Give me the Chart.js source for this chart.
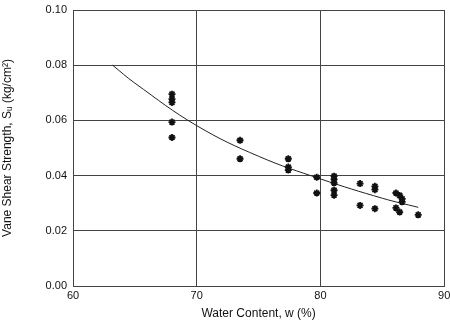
<!DOCTYPE html>
<html>
<head>
<meta charset="utf-8">
<script src="https://cdn.jsdelivr.net/npm/chart.js@4"></script>
<style>
  html, body { margin: 0; padding: 0; background: #fff; }
  #wrap { width: 450px; height: 321px; }
</style>
</head>
<body>
<div id="wrap"><canvas id="c" width="450" height="321"></canvas></div>
<script>
// Datos
const waterContent = [68, 68, 68, 68, 68,
  73.5, 73.5,
  77.4, 77.4, 77.4,
  79.7, 79.7,
  81.1, 81.1, 81.1, 81.1, 81.1,
  83.2, 83.2,
  84.4, 84.4, 84.4,
  86.1, 86.1, 86.4, 86.6, 86.6, 86.4,
  87.9];
const shearStrength = [0.0695, 0.0677, 0.0665, 0.0594, 0.0538,
  0.0528, 0.0461,
  0.0461, 0.0431, 0.0420,
  0.0394, 0.0337,
  0.0398, 0.0386, 0.0374, 0.0347, 0.0329,
  0.0371, 0.0292,
  0.0361, 0.0349, 0.0280,
  0.0337, 0.0283, 0.0328, 0.0316, 0.0305, 0.0268,
  0.0258];

// Curva de ajuste (puntos leídos)
const fitW = [63.2, 65, 70, 75, 80, 85, 87.9];
const fitSu = [0.080, 0.0735, 0.0581, 0.0470, 0.0388, 0.0318, 0.0285];

const xTicks = [60, 70, 80, 90];
const yTicks = [0, 0.02, 0.04, 0.06, 0.08, 0.10];

const font = { family: '"Liberation Sans", Arial, sans-serif', size: 11 };

new Chart(document.getElementById('c'), {
  type: 'scatter',
  data: {
    datasets: [
      {
        label: 'Datos',
        data: waterContent.map((w, i) => ({ x: w, y: shearStrength[i] })),
        pointStyle: 'star',
        pointRadius: 3.5,
        borderWidth: 1.8,
        borderColor: '#111',
        backgroundColor: '#111'
      },
      {
        label: 'Ajuste',
        type: 'line',
        data: fitW.map((w, i) => ({ x: w, y: fitSu[i] })),
        borderColor: '#222',
        borderWidth: 1,
        pointRadius: 0,
        tension: 0.4,
        fill: false
      }
    ]
  },
  options: {
    responsive: false,
    animation: false,
    layout: { padding: { top: 0, right: 0, left: 0, bottom: 0 } },
    plugins: { legend: { display: false }, tooltip: { enabled: false } },
    scales: {
      x: {
        type: 'linear', min: 60, max: 90,
        afterBuildTicks: s => { s.ticks = xTicks.map(v => ({ value: v })); },
        ticks: { color: '#111', font, padding: 3 },
        grid: { color: '#444', lineWidth: 1, drawTicks: false },
        border: { color: '#444' },
        title: { display: true, text: 'Water Content, w (%)', color: '#111', font: { ...font, size: 12 }, padding: { top: 1, bottom: 0 } },
        afterFit: s => { s.height = 35; s.paddingRight = 2; }
      },
      y: {
        type: 'linear', min: 0, max: 0.1,
        afterBuildTicks: s => { s.ticks = yTicks.map(v => ({ value: v })); },
        ticks: { color: '#111', font, padding: 6, callback: v => v.toFixed(2) },
        grid: { color: '#444', lineWidth: 1, drawTicks: false },
        border: { color: '#444' },
        title: { display: true, text: 'Vane Shear Strength, Sᵤ (kg/cm²)', color: '#111', font: { ...font, size: 12 }, padding: { top: 0, bottom: 4 } },
        afterFit: s => { s.width = 73; s.paddingTop = 10; }
      }
    }
  }
});
</script>
</body>
</html>
